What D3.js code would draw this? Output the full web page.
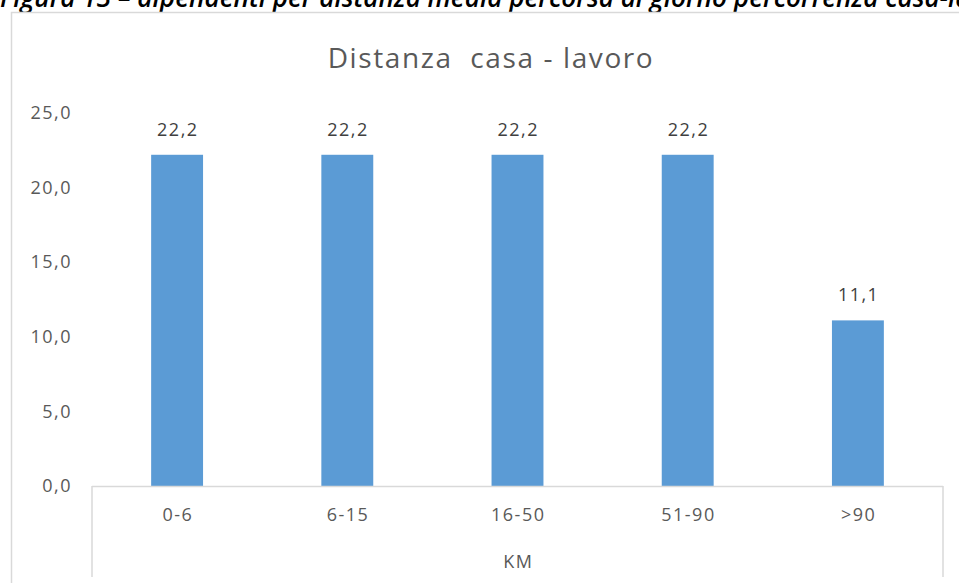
<!DOCTYPE html>
<html>
<head>
<meta charset="utf-8">
<script src="https://cdn.jsdelivr.net/npm/d3@7/dist/d3.min.js"></script>
<style>
  html, body { margin: 0; padding: 0; background: #ffffff; }
  svg { display: block; }
  text.pre { white-space: pre; }
</style>
</head>
<body>
<svg id="chart" width="959" height="583"></svg>
<script>
// Distance home–work, share of employees per distance band
const categories = ["0-6", "6-15", "16-50", "51-90", ">90"];
const values = [22.2, 22.2, 22.2, 22.2, 11.1];
const yTicks = [0, 5, 10, 15, 20, 25];
const chartTitle = "Distanza  casa - lavoro";
const xAxisTitle = "KM";
const captionText = "Figura 13 \u2013 dipendenti per distanza media percorsa al giorno percorrenza casa-lavoro";

const W = 959, H = 583;
const margin = { left: 92, right: 16, top: 113, bottom: 97 };
const plotRight = W - margin.right;
const plotBottom = H - margin.bottom;

const it = d3.formatLocale({ decimal: ",", thousands: ".", grouping: [3], currency: ["", "\u20ac"] });
const fmt = it.format(".1f");

const svg = d3.select("#chart");
const textFont = "'Open Sans', 'Noto Sans', sans-serif";
const grey = "#595959";
const labelSize = 18;
const labelSpacing = 1.5;

// caption running above the chart frame, sized so "casa" ends near x = 940
const caption = svg.append("text")
  .attr("x", 0)
  .attr("y", 7)
  .attr("font-family", textFont)
  .attr("font-style", "italic")
  .attr("font-weight", "600")
  .attr("font-size", 26)
  .attr("fill", "#000")
  .text(captionText.slice(0, captionText.indexOf("casa") + 4));
const capLen = caption.node().getComputedTextLength();
caption.attr("font-size", 26 * 940 / capLen).text(captionText);

// chart frame
svg.append("rect")
  .attr("x", 11.5).attr("y", 12.5)
  .attr("width", W + 10).attr("height", H + 10)
  .attr("fill", "#fff")
  .attr("stroke", "#d9d9d9")
  .attr("stroke-width", 1.5);

const x = d3.scaleBand()
  .domain(categories)
  .range([margin.left, plotRight])
  .paddingInner(0.695)
  .paddingOuter(0.3475);

const y = d3.scaleLinear()
  .domain([0, 25])
  .range([plotBottom, margin.top]);

// title
svg.append("text")
  .attr("class", "pre")
  .attr("x", 491)
  .attr("y", 68)
  .attr("text-anchor", "middle")
  .attr("font-family", textFont)
  .attr("font-size", 28)
  .attr("letter-spacing", 1.6)
  .attr("fill", grey)
  .text(chartTitle);

// y axis labels (no axis line)
const yAxis = d3.axisLeft(y).tickValues(yTicks).tickFormat(fmt).tickSize(0).tickPadding(20);
const yg = svg.append("g").attr("transform", `translate(${margin.left},0)`).call(yAxis);
yg.select(".domain").remove();
yg.selectAll("text")
  .attr("font-family", textFont)
  .attr("font-size", labelSize)
  .attr("letter-spacing", labelSpacing)
  .attr("fill", grey);

// bars
svg.append("g").selectAll("rect")
  .data(values)
  .join("rect")
  .attr("x", (d, i) => x(categories[i]))
  .attr("y", d => y(d))
  .attr("width", x.bandwidth())
  .attr("height", d => y(0) - y(d))
  .attr("fill", "#5b9bd5");

// value labels
svg.append("g").selectAll("text")
  .data(values)
  .join("text")
  .attr("x", (d, i) => x(categories[i]) + x.bandwidth() / 2 + labelSpacing / 2)
  .attr("y", d => y(d) - 19)
  .attr("text-anchor", "middle")
  .attr("font-family", textFont)
  .attr("font-size", labelSize)
  .attr("letter-spacing", labelSpacing)
  .attr("fill", "#404040")
  .text(d => fmt(d));

// category axis with group separators extending below
const axisColor = "#d9d9d9";
svg.append("line")
  .attr("x1", margin.left).attr("x2", plotRight)
  .attr("y1", plotBottom + 0.5).attr("y2", plotBottom + 0.5)
  .attr("stroke", axisColor).attr("stroke-width", 1.5);
[margin.left, plotRight].forEach(px => {
  svg.append("line")
    .attr("x1", px).attr("x2", px)
    .attr("y1", plotBottom).attr("y2", 577)
    .attr("stroke", axisColor).attr("stroke-width", 1.5);
});

const xAxis = d3.axisBottom(x).tickSize(0).tickPadding(22);
const xg = svg.append("g").attr("transform", `translate(0,${plotBottom})`).call(xAxis);
xg.select(".domain").remove();
xg.selectAll("text")
  .attr("font-family", textFont)
  .attr("font-size", labelSize)
  .attr("letter-spacing", labelSpacing)
  .attr("dx", labelSpacing / 2)
  .attr("fill", grey);

// axis title
svg.append("text")
  .attr("x", (margin.left + plotRight) / 2 + labelSpacing / 2)
  .attr("y", 568)
  .attr("text-anchor", "middle")
  .attr("font-family", textFont)
  .attr("font-size", labelSize)
  .attr("letter-spacing", labelSpacing)
  .attr("fill", grey)
  .text(xAxisTitle);
</script>
</body>
</html>
